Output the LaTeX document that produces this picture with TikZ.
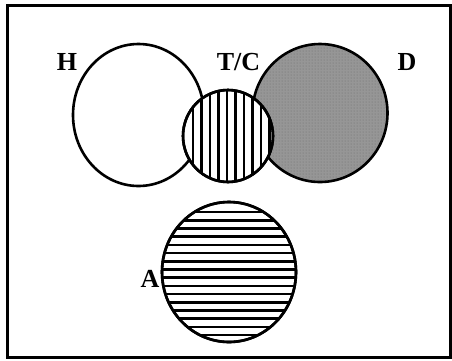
\documentclass[tikz,border=0pt]{standalone}
\usepackage{fontspec}
\setmainfont{Liberation Serif}
\usetikzlibrary{shapes.geometric,patterns}
\begin{document}
\begin{tikzpicture}[x=1pt,y=-1pt,
  setc/.style={ellipse,draw=black,line width=2.6pt,inner sep=0pt},
  lbl/.style={inner sep=0pt,font=\fontsize{26}{26}\selectfont\bfseries},
  stripe/.style={line width=2.6pt}]
\useasboundingbox (0,0) rectangle (452,360);
\draw[line width=3pt] (7,5) rectangle (450,357);
% H
\node[setc,fill=white,minimum width=131pt,minimum height=142pt] (H) at (138.5,115) {};
% D
\node[setc,fill={rgb,255:red,150;green,150;blue,150},minimum width=135pt,minimum height=138pt] (D) at (320,113) {};
\begin{scope}
\clip (320,113) ellipse [x radius=66pt,y radius=68pt];
\fill[pattern=dots,pattern color={rgb,255:red,110;green,110;blue,110}] (252,44) rectangle (388,182);
\end{scope}
% A
\node[setc,fill=white,minimum width=134pt,minimum height=140pt] (A) at (229,272) {};
\begin{scope}
\clip (229,272) ellipse [x radius=67pt,y radius=70pt];
\foreach \y in {212,220.2,...,340} \draw[stripe] (160,\y) -- (300,\y);
\end{scope}
\node[setc,minimum width=134pt,minimum height=140pt] at (A.center) {};
% T/C
\node[setc,fill=white,minimum width=90pt,minimum height=92pt] (TC) at (228,136) {};
\begin{scope}
\clip (228,136) ellipse [x radius=45pt,y radius=46pt];
\foreach \x in {193,201.5,...,275} \draw[stripe] (\x,88) -- (\x,184);
\end{scope}
\node[setc,minimum width=90pt,minimum height=92pt] at (TC.center) {};
% labels
\node[lbl] (lH) at (67,62) {H};
\node[lbl] (lTC) at (238.5,62) {T/C};
\node[lbl] (lD) at (407,62) {D};
\node[lbl] (lA) at (150,279) {A};
\end{tikzpicture}
\end{document}
